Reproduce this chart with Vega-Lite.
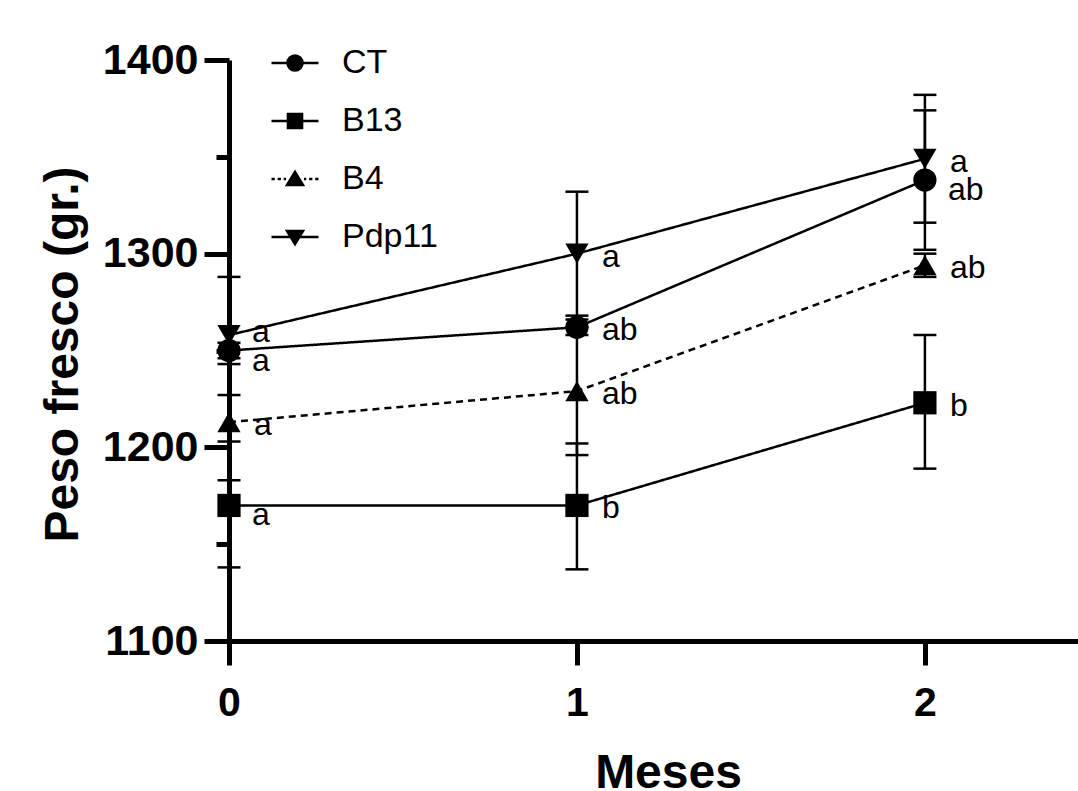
{
  "$schema": "https://vega.github.io/schema/vega-lite/v6.json",
  "autosize": "none",
  "padding": {"left": 229, "top": 60, "right": 0, "bottom": 150},
  "width": 849,
  "height": 581,
  "background": "white",
  "config": {
    "view": {"stroke": null},
    "font": "Liberation Sans",
    "axis": {"grid": false, "domainColor": "black", "tickColor": "black", "labelColor": "black", "titleColor": "black"}
  },
  "data": {
    "values": [
      {"grupo": "CT", "mes": 0, "peso": 1250, "lo": 1246, "hi": 1254, "letra": "a"},
      {"grupo": "CT", "mes": 1, "peso": 1262, "lo": 1258, "hi": 1266, "letra": "ab"},
      {"grupo": "CT", "mes": 2, "peso": 1338, "lo": 1302, "hi": 1374, "letra": "ab"},
      {"grupo": "B13", "mes": 0, "peso": 1170, "lo": 1138, "hi": 1203, "letra": "a"},
      {"grupo": "B13", "mes": 1, "peso": 1170, "lo": 1137, "hi": 1202, "letra": "b"},
      {"grupo": "B13", "mes": 2, "peso": 1223, "lo": 1189, "hi": 1258, "letra": "b"},
      {"grupo": "B4", "mes": 0, "peso": 1213, "lo": 1183, "hi": 1243, "letra": "a"},
      {"grupo": "B4", "mes": 1, "peso": 1229, "lo": 1196, "hi": 1262, "letra": "ab"},
      {"grupo": "B4", "mes": 2, "peso": 1294, "lo": 1288, "hi": 1300, "letra": "ab"},
      {"grupo": "Pdp11", "mes": 0, "peso": 1258, "lo": 1227, "hi": 1288, "letra": "a"},
      {"grupo": "Pdp11", "mes": 1, "peso": 1300, "lo": 1268, "hi": 1332, "letra": "a"},
      {"grupo": "Pdp11", "mes": 2, "peso": 1349, "lo": 1316, "hi": 1382, "letra": "a"}
    ]
  },
  "encoding": {
    "x": {
      "field": "mes", "type": "quantitative",
      "scale": {"domain": [0, 2.44], "nice": false, "zero": false},
      "axis": {
        "values": [0, 1, 2], "format": "d",
        "title": "Meses", "titleFont": "Liberation Sans", "titleFontSize": 48, "titleFontWeight": "bold",
        "titleX": 439, "titleY": 146, "titleAlign": "center", "titleBaseline": "alphabetic",
        "labelFont": "Liberation Sans", "labelFontSize": 41, "labelFontWeight": "bold", "labelPadding": 18,
        "domainWidth": 5, "tickWidth": 5, "tickSize": 24, "labelFlush": false, "labelOverlap": false
      }
    },
    "y": {
      "field": "peso", "type": "quantitative",
      "scale": {"domain": [1100, 1400], "nice": false, "zero": false},
      "axis": {
        "values": [1100, 1150, 1200, 1250, 1300, 1350, 1400], "format": "d",
        "labelExpr": "datum.value % 100 === 0 ? datum.label : ''",
        "tickSize": {"condition": {"test": "datum.value % 100 !== 0", "value": 13}, "value": 25},
        "title": "Peso fresco (gr.)", "titleFont": "Liberation Sans", "titleFontSize": 48, "titleFontWeight": "bold",
        "titleX": -152, "titleY": 294, "titleAlign": "center", "titleBaseline": "alphabetic", "titleAngle": 270,
        "labelFont": "Liberation Sans", "labelFontSize": 43, "labelFontWeight": "bold", "labelPadding": 6,
        "domainWidth": 5, "tickWidth": 5, "labelFlush": false, "labelOverlap": false
      }
    }
  },
  "layer": [
    {
      "mark": {"type": "rule", "color": "black", "strokeWidth": 2.5},
      "encoding": {"y": {"field": "lo", "type": "quantitative"}, "y2": {"field": "hi"}}
    },
    {
      "mark": {"type": "tick", "orient": "horizontal", "color": "black", "opacity": 1, "size": 23, "thickness": 2.5},
      "encoding": {"y": {"field": "lo", "type": "quantitative"}}
    },
    {
      "mark": {"type": "tick", "orient": "horizontal", "color": "black", "opacity": 1, "size": 23, "thickness": 2.5},
      "encoding": {"y": {"field": "hi", "type": "quantitative"}}
    },
    {
      "mark": {"type": "line", "color": "black", "strokeWidth": 2.5},
      "encoding": {
        "detail": {"field": "grupo"},
        "strokeDash": {
          "field": "grupo", "type": "nominal",
          "scale": {"domain": ["CT", "B13", "B4", "Pdp11"], "range": [[1, 0], [1, 0], [7, 5], [1, 0]]},
          "legend": null
        }
      }
    },
    {
      "mark": {"type": "point", "filled": true, "color": "black", "opacity": 1, "size": 540},
      "encoding": {
        "shape": {
          "field": "grupo", "type": "nominal",
          "scale": {"domain": ["CT", "B13", "B4", "Pdp11"], "range": ["circle", "square", "triangle-up", "triangle-down"]},
          "legend": null
        }
      }
    },
    {
      "transform": [{"filter": "!((datum.grupo === 'CT' && datum.mes !== 1) || (datum.grupo === 'B13' && datum.mes === 0) || (datum.grupo === 'Pdp11' && datum.mes === 0))"}],
      "mark": {"type": "text", "font": "Liberation Sans", "fontSize": 32, "color": "black", "align": "left", "baseline": "middle", "dx": 25, "dy": 3},
      "encoding": {"text": {"field": "letra"}}
    },
    {
      "transform": [{"filter": "(datum.grupo === 'CT' && datum.mes !== 1) || (datum.grupo === 'B13' && datum.mes === 0)"}],
      "mark": {"type": "text", "font": "Liberation Sans", "fontSize": 32, "color": "black", "align": "left", "baseline": "middle", "dx": 23, "dy": 10},
      "encoding": {"text": {"field": "letra"}}
    },
    {
      "transform": [{"filter": "datum.grupo === 'Pdp11' && datum.mes === 0"}],
      "mark": {"type": "text", "font": "Liberation Sans", "fontSize": 32, "color": "black", "align": "left", "baseline": "middle", "dx": 23, "dy": -3},
      "encoding": {"text": {"field": "letra"}}
    },
    {
      "mark": {"type": "point", "color": "black", "fill": "black", "stroke": "black", "strokeWidth": 2.5, "opacity": 0},
      "encoding": {
        "shape": {
          "field": "grupo", "type": "nominal",
          "scale": {
            "domain": ["CT", "B13", "B4", "Pdp11"],
            "range": [
              "M-1,0H1M0.32,0A0.32,0.32,0,1,1,-0.32,0A0.32,0.32,0,1,1,0.32,0Z",
              "M-1,0H1M-0.3,-0.3H0.3V0.3H-0.3Z",
              "M-1,0H-0.86M-0.74,0H-0.6M-0.48,0H-0.38M0.38,0H0.48M0.6,0H0.74M0.86,0H1M0,-0.3L0.34,0.26L-0.34,0.26Z",
              "M-1,0H1M0,0.3L0.34,-0.26L-0.34,-0.26Z"
            ]
          },
          "legend": {
            "title": null, "orient": "none", "legendX": 41, "legendY": -22, "padding": 0,
            "symbolSize": 2209, "symbolStrokeWidth": 2.5, "symbolFillColor": "black", "symbolStrokeColor": "black", "symbolOpacity": 1,
            "labelFont": "Liberation Sans", "labelFontSize": 34, "labelColor": "black", "labelOffset": 22,
            "rowPadding": 16, "labelLimit": 400,
            "encoding": {
              "symbols": {
                "stroke": {"value": "black"},
                "strokeWidth": {"value": 2.5},
                "strokeOpacity": {"value": 1},
                "fill": {"value": "black"},
                "opacity": {"value": 1}
              }
            }
          }
        }
      }
    }
  ],
  "resolve": {"scale": {"shape": "independent"}}
}
